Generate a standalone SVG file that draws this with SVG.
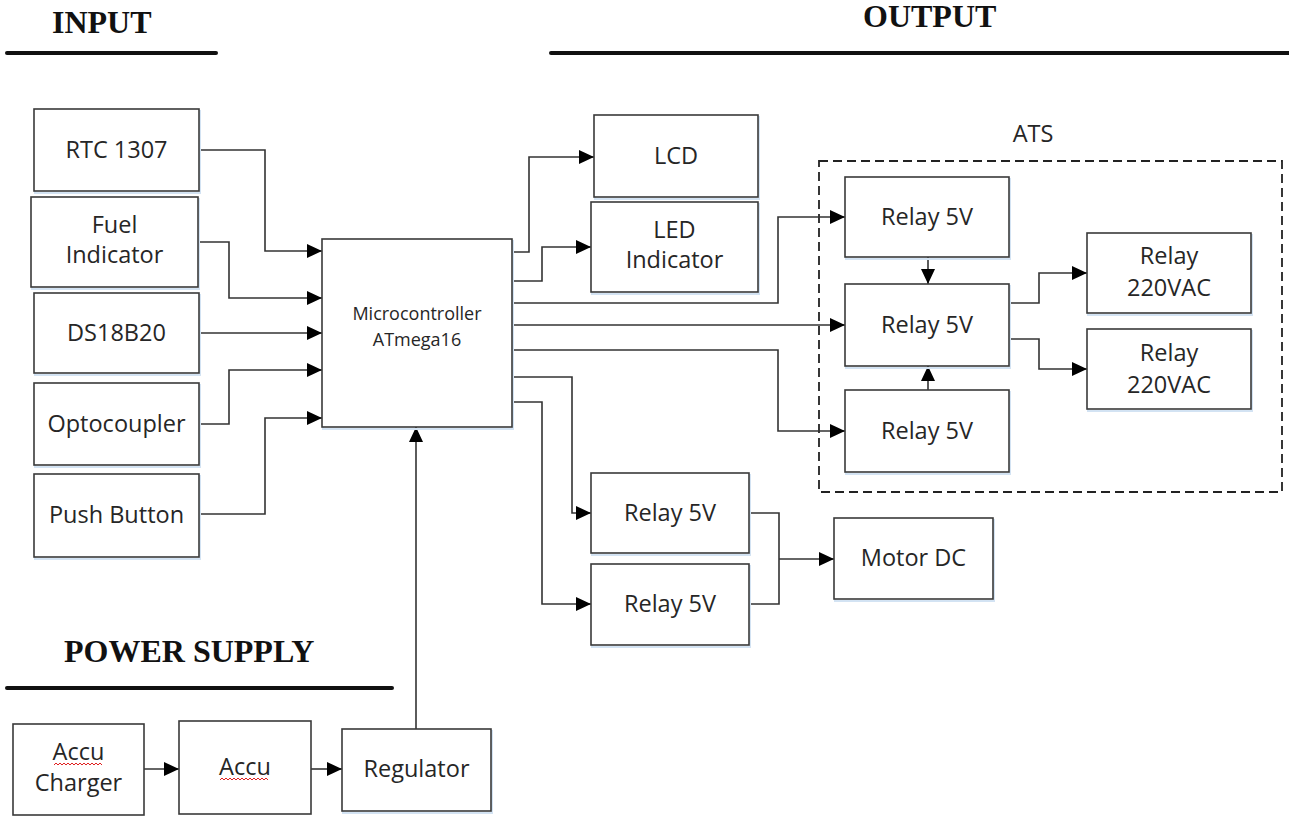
<svg xmlns="http://www.w3.org/2000/svg" width="1289" height="816" viewBox="0 0 1289 816">
<style>
.box{fill:#fff;stroke:#3a3a3a;stroke-width:1.6}
.sh{fill:none;stroke:#d3e3f3;stroke-width:2}
.t{font-family:"Open Sans","Liberation Sans",sans-serif;font-size:23.5px;fill:#262626;text-anchor:middle}
.s{font-size:18px}
.h{font-family:"Liberation Serif",serif;font-weight:bold;font-size:32px;fill:#111}
.c{fill:none;stroke:#333;stroke-width:1.6}
.a{marker-end:url(#arr)}
.rule{stroke:#111;stroke-width:4;stroke-linecap:round}
.sq{fill:none;stroke:#e02020;stroke-width:1}
.dash{fill:none;stroke:#222;stroke-width:1.8;stroke-dasharray:9 5}
</style>
<defs>
<marker id="arr" viewBox="0 0 15 14" refX="15" refY="7" markerWidth="15" markerHeight="14" markerUnits="userSpaceOnUse" orient="auto">
<path d="M0,0 L15,7 L0,14 z" fill="#000"/>
</marker>
</defs>
<rect width="1289" height="816" fill="#fff"/>

<g id="headings">
<text class="h" x="52" y="33">INPUT</text>
<line class="rule" x1="7" y1="53" x2="216" y2="53"/>
<text class="h" x="863" y="27">OUTPUT</text>
<line class="rule" x1="551" y1="53" x2="1295" y2="53"/>
<text class="h" x="64" y="662">POWER SUPPLY</text>
<line class="rule" x1="7" y1="688" x2="392" y2="688"/>
</g>

<g id="ats">
<rect class="dash" x="819" y="161" width="463" height="331"/>
<text class="t" x="1033" y="142">ATS</text>
</g>

<g id="connectors">
<path class="c a" d="M199,150 H265 V251 H322"/>
<path class="c a" d="M198,242 H229 V298 H322"/>
<path class="c a" d="M199,333 H322"/>
<path class="c a" d="M199,424 H229 V370 H322"/>
<path class="c a" d="M199,514 H265 V418 H322"/>
<path class="c a" d="M512,252 H529 V157 H594"/>
<path class="c a" d="M512,281 H542 V247 H591"/>
<path class="c a" d="M512,303 H778 V217 H845"/>
<path class="c a" d="M512,325 H845"/>
<path class="c a" d="M512,350 H778 V431 H845"/>
<path class="c a" d="M512,377 H572 V513 H591"/>
<path class="c a" d="M512,402 H542 V604 H591"/>
<path class="c a" d="M928,257 V284"/>
<path class="c a" d="M928,390 V366"/>
<path class="c a" d="M1009,303 H1039 V273 H1087"/>
<path class="c a" d="M1009,339 H1039 V369 H1087"/>
<path class="c" d="M749,513 H779 V604 H749"/>
<path class="c a" d="M779,559 H834"/>
<path class="c a" d="M144,769 H179"/>
<path class="c a" d="M311,769 H342"/>
<path class="c a" d="M416,729 V427"/>
</g>

<g id="rtc">
<rect class="sh" x="35" y="111" width="165" height="82"/>
<rect class="box" x="34" y="109" width="165" height="82"/>
<text class="t" x="116.5" y="158">RTC 1307</text>
</g>
<g id="fuel">
<rect class="sh" x="32" y="199" width="167" height="90"/>
<rect class="box" x="31" y="197" width="167" height="90"/>
<text class="t" x="114.5" y="233">Fuel</text>
<text class="t" x="114.5" y="263">Indicator</text>
</g>
<g id="ds18b20">
<rect class="sh" x="35" y="295" width="165" height="80"/>
<rect class="box" x="34" y="293" width="165" height="80"/>
<text class="t" x="116.5" y="341">DS18B20</text>
</g>
<g id="opto">
<rect class="sh" x="35" y="385" width="165" height="82"/>
<rect class="box" x="34" y="383" width="165" height="82"/>
<text class="t" x="116.5" y="432">Optocoupler</text>
</g>
<g id="push">
<rect class="sh" x="35" y="476" width="165" height="83"/>
<rect class="box" x="34" y="474" width="165" height="83"/>
<text class="t" x="116.5" y="523">Push Button</text>
</g>
<g id="mcu">
<rect class="sh" x="323" y="241" width="190" height="188"/>
<rect class="box" x="322" y="239" width="190" height="188"/>
<text class="t s" x="417" y="320">Microcontroller</text>
<text class="t s" x="417" y="346">ATmega16</text>
</g>
<g id="lcd">
<rect class="sh" x="595" y="117" width="164" height="82"/>
<rect class="box" x="594" y="115" width="164" height="82"/>
<text class="t" x="676" y="164">LCD</text>
</g>
<g id="led">
<rect class="sh" x="592" y="204" width="167" height="90"/>
<rect class="box" x="591" y="202" width="167" height="90"/>
<text class="t" x="674.5" y="238">LED</text>
<text class="t" x="674.5" y="268">Indicator</text>
</g>
<g id="relay1">
<rect class="sh" x="846" y="179" width="164" height="80"/>
<rect class="box" x="845" y="177" width="164" height="80"/>
<text class="t" x="927" y="225">Relay 5V</text>
</g>
<g id="relay2">
<rect class="sh" x="846" y="286" width="164" height="82"/>
<rect class="box" x="845" y="284" width="164" height="82"/>
<text class="t" x="927" y="333">Relay 5V</text>
</g>
<g id="relay3">
<rect class="sh" x="846" y="392" width="164" height="82"/>
<rect class="box" x="845" y="390" width="164" height="82"/>
<text class="t" x="927" y="439">Relay 5V</text>
</g>
<g id="vac1">
<rect class="sh" x="1088" y="235" width="164" height="80"/>
<rect class="box" x="1087" y="233" width="164" height="80"/>
<text class="t" x="1169" y="264">Relay</text>
<text class="t" x="1169" y="296">220VAC</text>
</g>
<g id="vac2">
<rect class="sh" x="1088" y="331" width="164" height="80"/>
<rect class="box" x="1087" y="329" width="164" height="80"/>
<text class="t" x="1169" y="361">Relay</text>
<text class="t" x="1169" y="393">220VAC</text>
</g>
<g id="mrelay1">
<rect class="sh" x="592" y="475" width="158" height="80"/>
<rect class="box" x="591" y="473" width="158" height="80"/>
<text class="t" x="670" y="521">Relay 5V</text>
</g>
<g id="mrelay2">
<rect class="sh" x="592" y="566" width="158" height="81"/>
<rect class="box" x="591" y="564" width="158" height="81"/>
<text class="t" x="670" y="612">Relay 5V</text>
</g>
<g id="motor">
<rect class="sh" x="835" y="520" width="159" height="81"/>
<rect class="box" x="834" y="518" width="159" height="81"/>
<text class="t" x="913.5" y="566">Motor DC</text>
</g>
<g id="charger">
<rect class="box" x="13" y="724" width="131" height="91"/>
<text class="t" x="78.5" y="760">Accu</text>
<path class="sq" d="M54,765 l2,-2 l2,2 l2,-2 l2,2 l2,-2 l2,2 l2,-2 l2,2 l2,-2 l2,2 l2,-2 l2,2 l2,-2 l2,2 l2,-2 l2,2 l2,-2 l2,2 l2,-2 l2,2 l2,-2 l2,2 l2,-2 l2,2"/>
<text class="t" x="78.5" y="791">Charger</text>
</g>
<g id="accu">
<rect class="box" x="179" y="721" width="132" height="93"/>
<text class="t" x="245" y="775">Accu</text>
<path class="sq" d="M220,780 l2,-2 l2,2 l2,-2 l2,2 l2,-2 l2,2 l2,-2 l2,2 l2,-2 l2,2 l2,-2 l2,2 l2,-2 l2,2 l2,-2 l2,2 l2,-2 l2,2 l2,-2 l2,2 l2,-2 l2,2 l2,-2 l2,2"/>
</g>
<g id="regulator">
<rect class="sh" x="343" y="731" width="149" height="82"/>
<rect class="box" x="342" y="729" width="149" height="82"/>
<text class="t" x="416.5" y="777">Regulator</text>
</g>
</svg>
